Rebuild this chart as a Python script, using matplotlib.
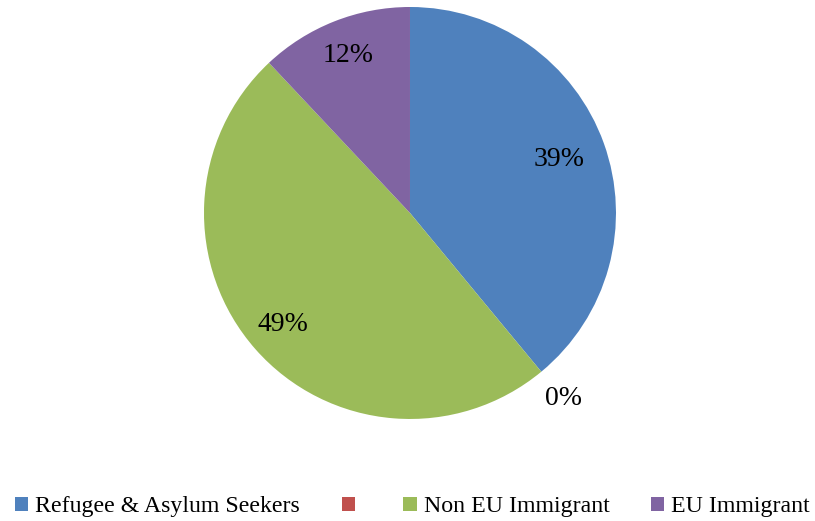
import matplotlib
matplotlib.use("Agg")
import matplotlib.pyplot as plt
from matplotlib.patches import Patch
import numpy as np

categories = ["Refugee & Asylum Seekers", "", "Non EU Immigrant", "EU Immigrant"]
values = [39, 0, 49, 12]
pct_labels = ["39%", "0%", "49%", "12%"]
colors = ["#4F81BD", "#C0504D", "#9BBB59", "#8064A2"]
label_dist = [0.77, 1.17, 0.82, 0.82]

plt.rcParams['font.family'] = ['Liberation Serif', 'DejaVu Serif']

fig = plt.figure(figsize=(8.15, 5.21), dpi=100)
ax = fig.add_axes([0.2503, 0.1958, 0.5055, 0.7908])
wedges, _ = ax.pie(values, colors=colors, startangle=90, counterclock=False,
                   radius=1.0, wedgeprops=dict(linewidth=0))
ax.set_xlim(-1, 1)
ax.set_ylim(-1, 1)
ax.set_aspect('equal')
ax.axis('off')

for w, lab, d in zip(wedges, pct_labels, label_dist):
    ang = np.deg2rad((w.theta1 + w.theta2) / 2)
    ax.text(d * np.cos(ang), d * np.sin(ang), lab, ha='center', va='center',
            fontsize=20, color='black')

handles = [Patch(facecolor=c, edgecolor='none') for c in colors]
fig.legend(handles, categories, loc='center', bbox_to_anchor=(0.506, 0.027),
           ncol=4, frameon=False, fontsize=17.2, handlelength=0.56,
           handleheight=0.56, handletextpad=0.28, columnspacing=1.75)

fig.savefig("out.png", dpi=100)
